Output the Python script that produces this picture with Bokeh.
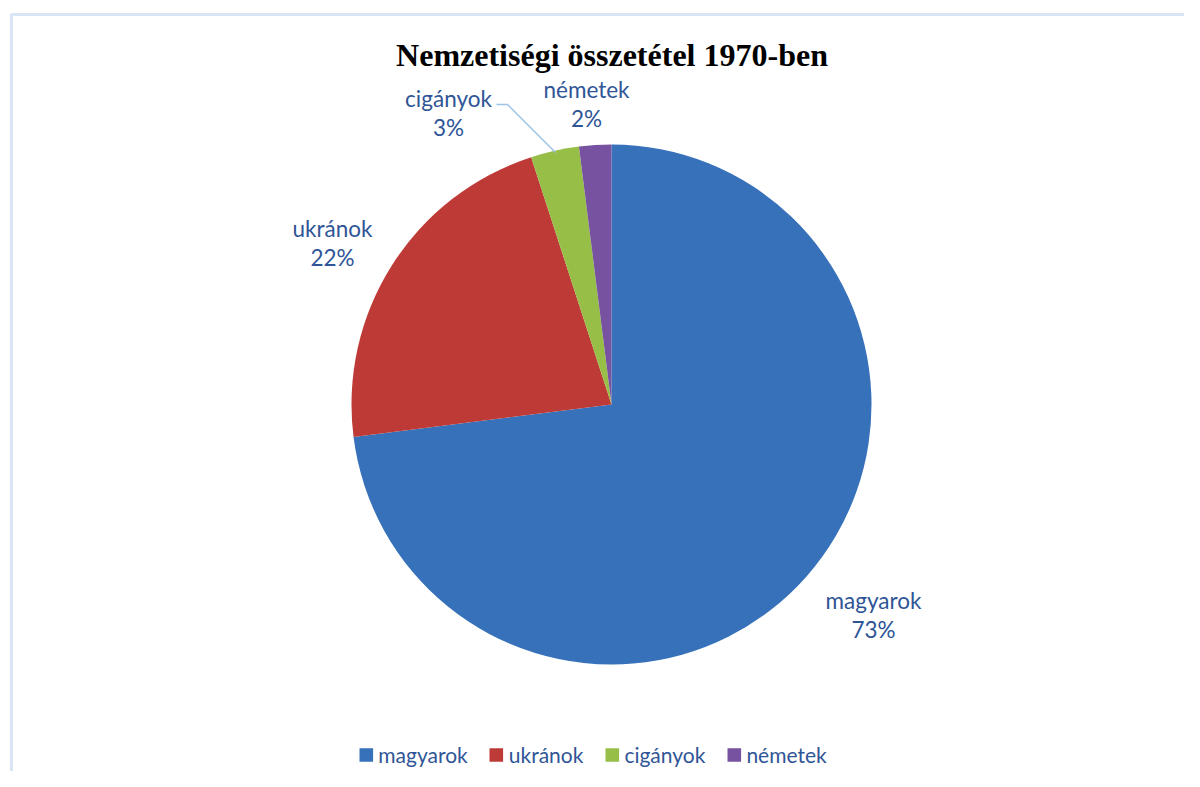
import numpy as np
from bokeh.plotting import figure
from bokeh.models import Range1d, ColumnDataSource, Legend, LegendItem
from bokeh.core.properties import value
from bokeh.embed import file_html
from bokeh.resources import INLINE

# ---- data ----
categories = ["magyarok", "ukránok", "cigányok", "németek"]
shares = [73, 22, 3, 2]
pct_labels = ["73%", "22%", "3%", "2%"]
title_text = "Nemzetiségi összetétel 1970-ben"

# ---- styles / layout ----
colors = ["#3671ba", "#bd3a37", "#97bf47", "#7652a0"]
W, H = 1184, 771
OFF = 0  # observed page offset
cx, cy, R = 611, -404, 260
label_pos = [(873, -600), (332, -228), (448, -98), (586, -89)]
LINE_GAP = 29
text_color = "#2f5597"

p = figure(width=W, height=H, output_backend="svg", toolbar_location=None,
           x_range=Range1d(OFF, OFF + W), y_range=Range1d(-(OFF + H), -OFF),
           min_border=0, outline_line_color=None)
p.axis.visible = False
p.grid.visible = False
p.background_fill_color = "white"
p.border_fill_color = "white"

# light frame border (only top/left visible)
p.quad(left=[11], right=[1400], top=[-14], bottom=[-1000],
       fill_color=None, line_color="#d9e5f4", line_width=3)

vals = np.array(shares, dtype=float)
frac = vals / vals.sum()
cum = np.concatenate([[0], np.cumsum(frac)])
start = np.pi / 2 - cum[:-1] * 2 * np.pi
end = np.pi / 2 - cum[1:] * 2 * np.pi

src = ColumnDataSource(dict(cat=categories, start=start, end=end, color=colors,
                            x=[cx] * 4, y=[cy] * 4))
wr = p.wedge(x="x", y="y", radius=R, start_angle="start", end_angle="end",
             direction="clock", fill_color="color", line_color=None, source=src)

# leader line for cigányok
p.line(x=[496, 507, 555], y=[-104, -104, -152], line_color="#9dc3e6", line_width=1.5)

# data labels
lx = [q[0] for q in label_pos]
ly = [q[1] for q in label_pos]
p.text(x=lx, y=ly, text=categories, text_align="center", text_baseline="middle",
       text_font=value("Lato"), text_font_size="22.5px", text_color=text_color)
p.text(x=lx, y=[v - LINE_GAP for v in ly], text=pct_labels, text_align="center",
       text_baseline="middle", text_font=value("Lato"), text_font_size="22.5px",
       text_color=text_color)

# title
p.text(x=[611.5], y=[-54], text=[title_text], text_align="center", text_baseline="middle",
       text_font=value("Liberation Serif"), text_font_style="bold",
       text_font_size="32px", text_color="black")

# legend
items = [LegendItem(label=c, renderers=[wr], index=i) for i, c in enumerate(categories)]
legend = Legend(items=items, orientation="horizontal", location="bottom_center",
                glyph_width=17, glyph_height=17, label_standoff=4, spacing=20,
                padding=0, margin=4, border_line_color=None, background_fill_alpha=0,
                label_text_font="Lato", label_text_font_size="21px",
                label_text_color=text_color)
p.add_layout(legend, "center")

open("out.html", "w").write(file_html(p, INLINE))
